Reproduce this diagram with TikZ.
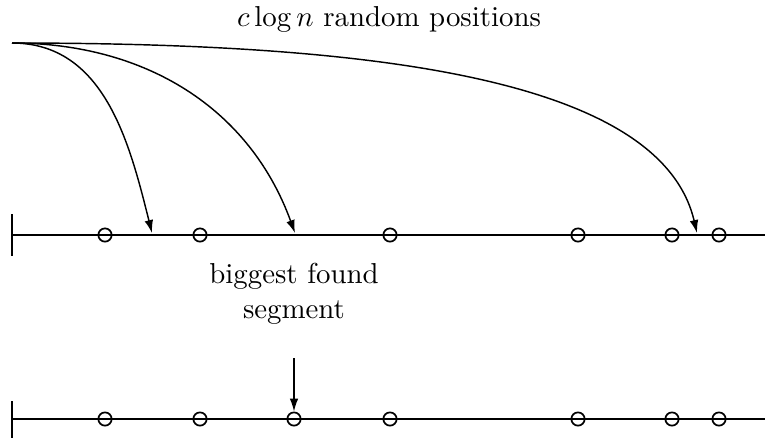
\documentclass[tikz,border=0pt]{standalone}
\usetikzlibrary{arrows.meta}
\begin{document}
\begin{tikzpicture}[x=0.3467pt,y=-0.3467pt,
  axis/.style={line width=0.8pt},
  pt/.style={circle,draw,line width=0.6pt,minimum size=4.6pt,inner sep=0pt},
  conn/.style={line width=0.5pt,-{Latex[length=4.5pt,width=3pt]}},
  lbl/.style={font=\normalsize,align=center}]
\useasboundingbox (0,0) rectangle (765,440);
% top axis
\coordinate (t0) at (12,235);
\coordinate (t1) at (765,235);
\draw[axis] (t0) -- (t1);
\coordinate (tk0) at (12,214);
\coordinate (tk1) at (12,256);
\draw[axis] (tk0) -- (tk1);
% bottom axis
\coordinate (b0) at (12,419);
\coordinate (b1) at (765,419);
\draw[axis] (b0) -- (b1);
\coordinate (bk0) at (12,401);
\coordinate (bk1) at (12,438);
\draw[axis] (bk0) -- (bk1);
% circles top
\foreach \x/\n in {105/a,200/b,390/c,578/d,672/e,719/f}
  \node[pt] (T\n) at (\x,235) {};
% circles bottom
\foreach \x/\n in {105/a,200/b,294/s,390/c,578/d,672/e,719/f}
  \node[pt] (B\n) at (\x,419) {};
% source and targets
\coordinate (src) at (12,43);
\coordinate (h1) at (152,233);
\coordinate (h2) at (295,233);
\coordinate (h3) at (697,233);
\draw[conn] (src) to[out=0,in=104] (h1);
\draw[conn] (src) to[out=0,in=110] (h2);
\draw[conn] (src) .. controls (360,43) and (660,75) .. (h3);
% labels
\node[lbl] (top) at (389,19) {$c\log n$ random positions};
\node[lbl] (big) at (294,294) {biggest found\\segment};
\coordinate (a0) at (294,358);
\draw[conn] (a0) -- (Bs.north);
\end{tikzpicture}
\end{document}
